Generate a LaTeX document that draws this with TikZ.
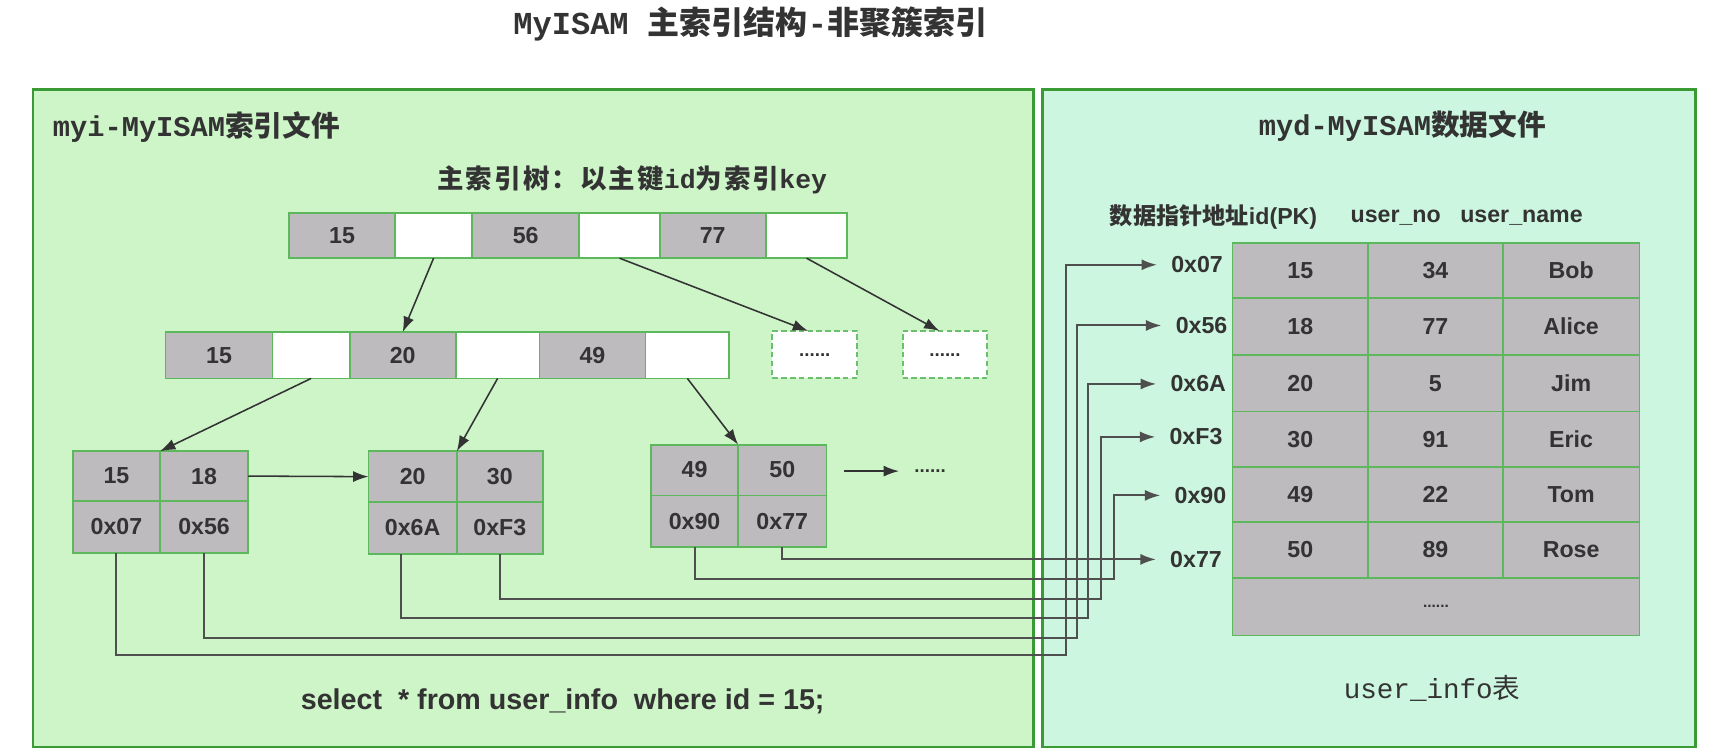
\documentclass[tikz,border=0pt]{standalone}
\usepackage{fontspec}
\setmainfont{Liberation Sans}
\newfontfamily\cjk{Noto Sans CJK SC}
\newfontfamily\cjkls[LetterSpace=8]{Noto Sans CJK SC}
\newfontfamily\mono{Liberation Mono}
\usetikzlibrary{arrows.meta,calc}
\definecolor{lpanel}{HTML}{CDF5C8}
\definecolor{rpanel}{HTML}{CCF6E0}
\definecolor{panelb}{HTML}{3A9B35}
\definecolor{cellb}{HTML}{5DB85D}
\definecolor{cellg}{HTML}{BEBBBF}
\definecolor{dashc}{HTML}{6CBF6C}
\definecolor{txt}{HTML}{333333}
\definecolor{arrc}{HTML}{333333}
\definecolor{linec}{HTML}{4F4F4F}
\newcommand\fsz[1]{\fontsize{#1}{#1}\selectfont}
\newcommand\cellnode[7]{\node[#1, minimum width={(#5-#3)*1pt}, minimum height={(#6-#4)*1pt}] (#2) at ({(#3+#5)/2},{(#4+#6)/2}) {#7};}
\begin{document}
\begin{tikzpicture}[x=1pt,y=-1pt,
  every node/.style={inner sep=0pt, outer sep=0pt, text=txt},
  lpanelst/.style={draw=panelb, line width=2.4pt, fill=lpanel},
  rpanelst/.style={draw=panelb, line width=2.4pt, fill=rpanel},
  gcell/.style={draw=cellb, line width=1.6pt, fill=cellg, font=\fsz{21}\bfseries},
  wcell/.style={draw=cellb, line width=1.6pt, fill=white},
  dbox/.style={draw=dashc, line width=1.8pt, dash pattern=on 5pt off 3pt, fill=white, font=\fsz{17}\bfseries},
  tarrow/.style={draw=arrc, line width=1.4pt, -{Latex[length=14pt,width=10pt]}},
  ptr/.style={draw=linec, line width=1.8pt, -{Latex[length=14pt,width=10pt]}, shorten >=13pt},
  plabel/.style={font=\fsz{21}\bfseries},
  hdr/.style={font=\fsz{21}\bfseries}
]
\fill[white] (0,0) rectangle (1568,682);
\useasboundingbox (0,0) rectangle (1568,682);

% title
\node (title) at (680,22) {\fsz{29}\bfseries\mono MyISAM \cjk 主索引结构\mono -\cjk 非聚簇索引};

% panels
\cellnode{lpanelst}{lp}{30}{81}{937}{677}{}
\cellnode{rpanelst}{rp}{945}{81}{1537}{677}{}

\node[anchor=west] (lt) at (48,115) {\fsz{26}\bfseries\mono myi-MyISAM\cjk 索引文件};
\node (rt) at (1271,114) {\fsz{26}\bfseries\mono myd-MyISAM\cjk 数据文件};
\node (tree) at (573,163) {\fsz{24}\bfseries\cjkls 主索引树：以主键{\mono id}为索引{\mono key}};

% top row
\cellnode{gcell}{t1}{262}{193}{358}{234}{15}
\cellnode{wcell}{t2}{358}{193}{428}{234}{}
\cellnode{gcell}{t3}{428}{193}{525}{234}{56}
\cellnode{wcell}{t4}{525}{193}{598}{234}{}
\cellnode{gcell}{t5}{598}{193}{694}{234}{77}
\cellnode{wcell}{t6}{694}{193}{768}{234}{}

% second row
\cellnode{gcell}{m1}{150}{301}{247}{343}{15}
\cellnode{wcell}{m2}{247}{301}{317}{343}{}
\cellnode{gcell}{m3}{317}{301}{413}{343}{20}
\cellnode{wcell}{m4}{413}{301}{489}{343}{}
\cellnode{gcell}{m5}{489}{301}{585}{343}{49}
\cellnode{wcell}{m6}{585}{301}{661}{343}{}
\cellnode{dbox}{d1}{700}{300}{777}{343}{......}
\cellnode{dbox}{d2}{818}{300}{895}{343}{......}

% leaves
\cellnode{gcell}{a1}{66}{409}{145}{454}{15}
\cellnode{gcell}{a2}{145}{409}{225}{454}{18}
\cellnode{gcell}{a3}{66}{454}{145}{501}{0x07}
\cellnode{gcell}{a4}{145}{454}{225}{501}{0x56}
\cellnode{gcell}{b1}{334}{409}{414}{455}{20}
\cellnode{gcell}{b2}{414}{409}{492}{455}{30}
\cellnode{gcell}{b3}{334}{455}{414}{502}{0x6A}
\cellnode{gcell}{b4}{414}{455}{492}{502}{0xF3}
\cellnode{gcell}{c1}{590}{403}{669}{449}{49}
\cellnode{gcell}{c2}{669}{403}{749}{449}{50}
\cellnode{gcell}{c3}{590}{449}{669}{496}{0x90}
\cellnode{gcell}{c4}{669}{449}{749}{496}{0x77}
\node[font=\fsz{17}\bfseries] (more) at (843,427) {......};

% tree arrows
\draw[tarrow] (t2.south) -- (m3.north);
\draw[tarrow] (t4.south) -- ([xshift=-6pt]d1.north);
\draw[tarrow] (t6.south) -- ([xshift=-5pt]d2.north);
\draw[tarrow] (m2.south) -- (a1.north east);
\draw[tarrow] (m4.south) -- (b1.north east);
\draw[tarrow] (m6.south) -- (c1.north east);
\draw[tarrow] (a2.east) -- (b1.west);
\coordinate (c2o) at (765,427);
\draw[tarrow] (c2o) -- ([xshift=-14pt]more.west);

% data file
\node[hdr, anchor=west] (h1) at (1006,197) {{\cjk 数据指针地址}id(PK)};
\node[hdr] (h2) at (1265,197) {user\_no};
\node[hdr] (h3) at (1379,197) {user\_name};

\cellnode{gcell}{r1c1}{1117}{220}{1240}{270}{15}
\cellnode{gcell}{r1c2}{1240}{220}{1362}{270}{34}
\cellnode{gcell}{r1c3}{1362}{220}{1486}{270}{Bob}
\cellnode{gcell}{r2c1}{1117}{270}{1240}{322}{18}
\cellnode{gcell}{r2c2}{1240}{270}{1362}{322}{77}
\cellnode{gcell}{r2c3}{1362}{270}{1486}{322}{Alice}
\cellnode{gcell}{r3c1}{1117}{322}{1240}{373}{20}
\cellnode{gcell}{r3c2}{1240}{322}{1362}{373}{5}
\cellnode{gcell}{r3c3}{1362}{322}{1486}{373}{Jim}
\cellnode{gcell}{r4c1}{1117}{373}{1240}{423}{30}
\cellnode{gcell}{r4c2}{1240}{373}{1362}{423}{91}
\cellnode{gcell}{r4c3}{1362}{373}{1486}{423}{Eric}
\cellnode{gcell}{r5c1}{1117}{423}{1240}{473}{49}
\cellnode{gcell}{r5c2}{1240}{423}{1362}{473}{22}
\cellnode{gcell}{r5c3}{1362}{423}{1486}{473}{Tom}
\cellnode{gcell}{r6c1}{1117}{473}{1240}{524}{50}
\cellnode{gcell}{r6c2}{1240}{473}{1362}{524}{89}
\cellnode{gcell}{r6c3}{1362}{473}{1486}{524}{Rose}
\cellnode{gcell}{r7}{1117}{524}{1486}{576}{\fsz{14}......}

\node[plabel] (p1) at (1085,240) {0x07};
\node[plabel] (p2) at (1089,295) {0x56};
\node[plabel] (p3) at (1086,348) {0x6A};
\node[plabel] (p4) at (1084,396) {0xF3};
\node[plabel] (p5) at (1088,449) {0x90};
\node[plabel] (p6) at (1084,507) {0x77};

% pointers
\draw[ptr] (a3.south) |- (966,594) |- (p1.west);
\draw[ptr] (a4.south) |- (976,578) |- (p2.west);
\draw[ptr] ([xshift=-11pt]b3.south) |- (986,560) |- (p3.west);
\draw[ptr] (b4.south) |- (998,543) |- (p4.west);
\draw[ptr] (c3.south) |- (1010,525) |- (p5.west);
\draw[ptr] (c4.south) |- (p6.west);

\node (sql) at (510,636) {\fsz{26}\bfseries select\ \ * from user\_info\ \ where id = 15;};
\node (tbl) at (1298,624) {\fsz{25}\mono user\_info\cjk 表};
\end{tikzpicture}
\end{document}
